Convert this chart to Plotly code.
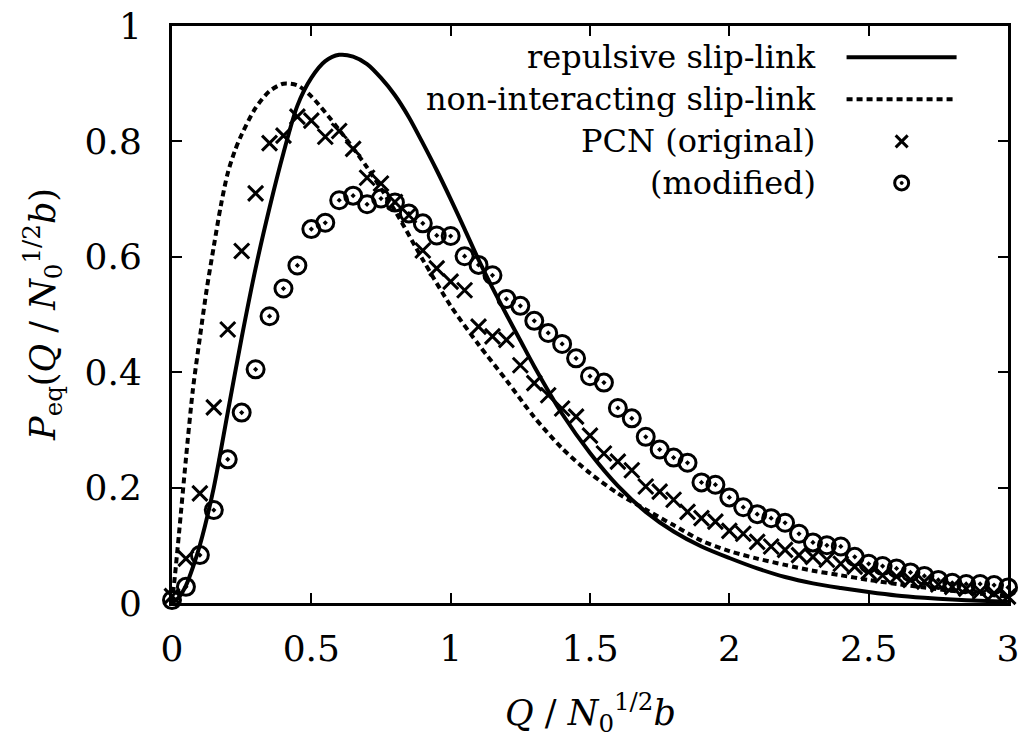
import plotly.graph_objects as go

# ---------------- data ----------------
pcn_q = [0.00, 0.05, 0.10, 0.15, 0.20, 0.25, 0.30, 0.35, 0.40, 0.45,
         0.50, 0.55, 0.60, 0.65, 0.70, 0.75, 0.80, 0.85, 0.90, 0.95,
         1.00, 1.05, 1.10, 1.15, 1.20, 1.25, 1.30, 1.35, 1.40, 1.45,
         1.50, 1.55, 1.60, 1.65, 1.70, 1.75, 1.80, 1.85, 1.90, 1.95,
         2.00, 2.05, 2.10, 2.15, 2.20, 2.25, 2.30, 2.35, 2.40, 2.45,
         2.50, 2.55, 2.60, 2.65, 2.70, 2.75, 2.80, 2.85, 2.90, 2.95, 3.00]

pcn_original = [0.012, 0.077, 0.19, 0.339, 0.474, 0.61, 0.71, 0.797, 0.81, 0.843,
                0.836, 0.808, 0.818, 0.787, 0.737, 0.727, 0.695, 0.672, 0.611, 0.58,
                0.557, 0.542, 0.479, 0.462, 0.456, 0.412, 0.381, 0.360, 0.337, 0.323,
                0.29, 0.259, 0.245, 0.23, 0.202, 0.193, 0.179, 0.158, 0.147, 0.141,
                0.125, 0.12, 0.106, 0.098, 0.092, 0.083, 0.08, 0.075, 0.068, 0.063,
                0.054, 0.048, 0.046, 0.040, 0.037, 0.032, 0.028, 0.025, 0.02, 0.017, 0.011]

pcn_modified = [0.005, 0.028, 0.083, 0.161, 0.249, 0.330, 0.405, 0.497, 0.545, 0.585,
                0.648, 0.659, 0.698, 0.706, 0.691, 0.701, 0.694, 0.675, 0.658, 0.637,
                0.636, 0.601, 0.586, 0.568, 0.527, 0.515, 0.489, 0.468, 0.449, 0.424,
                0.393, 0.382, 0.338, 0.32, 0.288, 0.266, 0.252, 0.243, 0.209, 0.205,
                0.183, 0.166, 0.154, 0.147, 0.139, 0.12, 0.105, 0.10, 0.098, 0.080,
                0.068, 0.064, 0.060, 0.053, 0.047, 0.040, 0.035, 0.033, 0.033, 0.031, 0.027]

rep_q = [0, 0.025, 0.05, 0.075, 0.1, 0.15, 0.2, 0.25, 0.3, 0.35, 0.4, 0.45, 0.5,
         0.55, 0.6, 0.65, 0.7, 0.75, 0.8, 0.85, 0.9, 0.95, 1.0, 1.05, 1.1, 1.15,
         1.2, 1.25, 1.3, 1.4, 1.5, 1.6, 1.7, 1.8, 1.9, 2.0, 2.1, 2.2, 2.3, 2.4,
         2.5, 2.6, 2.7, 2.8, 2.9, 3.0]
rep_p = [0, 0.01, 0.03, 0.062, 0.10, 0.20, 0.33, 0.46, 0.58, 0.685, 0.78, 0.862, 0.91,
         0.939, 0.95, 0.947, 0.934, 0.91, 0.88, 0.842, 0.797, 0.75, 0.70, 0.648, 0.595,
         0.546, 0.50, 0.455, 0.41, 0.328, 0.26, 0.203, 0.158, 0.124, 0.098, 0.078,
         0.060, 0.045, 0.034, 0.026, 0.019, 0.013, 0.009, 0.006, 0.004, 0.002]

non_q = [0, 0.01, 0.025, 0.05, 0.075, 0.1, 0.125, 0.15, 0.175, 0.2, 0.225, 0.25, 0.3,
         0.35, 0.4, 0.45, 0.5, 0.6, 0.7, 0.8, 0.9, 1.0, 1.1, 1.2, 1.3, 1.4, 1.5, 1.6,
         1.7, 1.8, 1.9, 2.0, 2.1, 2.2, 2.3, 2.4, 2.5, 2.6, 2.7, 2.8, 2.9, 3.0]
non_p = [0, 0.045, 0.12, 0.25, 0.37, 0.46, 0.545, 0.618, 0.688, 0.745, 0.783, 0.812, 0.858,
         0.887, 0.90, 0.897, 0.878, 0.82, 0.755, 0.68, 0.595, 0.515, 0.448, 0.386, 0.322,
         0.268, 0.225, 0.19, 0.162, 0.135, 0.108, 0.09, 0.077, 0.066, 0.056, 0.048,
         0.04, 0.033, 0.027, 0.021, 0.016, 0.011]

x_ticks = [0, 0.5, 1, 1.5, 2, 2.5, 3]
x_tick_text = ["0", "0.5", "1", "1.5", "2", "2.5", "3"]
y_ticks = [0, 0.2, 0.4, 0.6, 0.8, 1]
y_tick_text = ["0", "0.2", "0.4", "0.6", "0.8", "1"]

legend_labels = ["repulsive slip-link", "non-interacting slip-link",
                 "PCN (original)", "(modified)"]

# ---------------- figure ----------------
FONT = "DejaVu Serif"
FS_TICK = 36
FS_LEG = 32
FS_TITLE = 35

fig = go.Figure()

fig.add_trace(go.Scatter(x=rep_q, y=rep_p, mode="lines",
                         line=dict(color="black", width=4, shape="spline", smoothing=0.8),
                         showlegend=False, cliponaxis=False, hoverinfo="skip"))
fig.add_trace(go.Scatter(x=non_q, y=non_p, mode="lines",
                         line=dict(color="black", width=4, dash="6px,4px",
                                   shape="spline", smoothing=0.8),
                         showlegend=False, cliponaxis=False, hoverinfo="skip"))
fig.add_trace(go.Scatter(x=pcn_q, y=pcn_original, mode="markers",
                         marker=dict(symbol="x-thin-open", size=15, color="black",
                                     line=dict(color="black", width=3)),
                         showlegend=False, cliponaxis=False, hoverinfo="skip"))
fig.add_trace(go.Scatter(x=pcn_q, y=pcn_modified, mode="markers",
                         marker=dict(symbol="circle-open-dot", size=17, color="black",
                                     line=dict(color="black", width=3)),
                         showlegend=False, cliponaxis=False, hoverinfo="skip"))

axis_common = dict(showgrid=False, zeroline=False, showline=True, linecolor="black",
                   linewidth=3, mirror="ticks", ticks="inside", ticklen=10, tickwidth=2,
                   tickcolor="black", automargin=False, ticklabeloverflow="allow",
                   tickfont=dict(family=FONT, size=FS_TICK, color="black"))

fig.update_xaxes(range=[0, 3], tickvals=x_ticks, ticktext=x_tick_text,
                 ticklabelstandoff=12, **axis_common)
fig.update_yaxes(range=[0, 1], tickvals=y_ticks, ticktext=y_tick_text,
                 ticklabelstandoff=20, **axis_common)

# ---------------- manual legend (text left of key, as in gnuplot) ----------------
row_y = [0.946, 0.873, 0.800, 0.728]
text_x = 0.7726
key_x0, key_x1, key_xc = 0.8069, 0.9385, 0.8728

for lab, yy in zip(legend_labels, row_y):
    fig.add_annotation(x=text_x, y=yy, xref="paper", yref="paper", text=lab,
                       showarrow=False, xanchor="right", yanchor="middle",
                       font=dict(family=FONT, size=FS_LEG, color="black"))

fig.add_shape(type="line", xref="paper", yref="paper", x0=key_x0, x1=key_x1,
              y0=row_y[0], y1=row_y[0], line=dict(color="black", width=4))
fig.add_shape(type="line", xref="paper", yref="paper", x0=key_x0, x1=key_x1,
              y0=row_y[1], y1=row_y[1], line=dict(color="black", width=4, dash="6px,4px"))
for sx in (1, -1):
    fig.add_shape(type="line", xref="paper", yref="paper",
                  xsizemode="pixel", ysizemode="pixel", xanchor=key_xc, yanchor=row_y[2],
                  x0=-6, x1=6, y0=-6 * sx, y1=6 * sx, line=dict(color="black", width=3))
fig.add_shape(type="circle", xref="paper", yref="paper",
              xsizemode="pixel", ysizemode="pixel", xanchor=key_xc, yanchor=row_y[3],
              x0=-7, x1=7, y0=-7, y1=7, line=dict(color="black", width=3))
fig.add_shape(type="circle", xref="paper", yref="paper",
              xsizemode="pixel", ysizemode="pixel", xanchor=key_xc, yanchor=row_y[3],
              x0=-1.5, x1=1.5, y0=-1.5, y1=1.5, fillcolor="black",
              line=dict(color="black", width=1))

# ---------------- axis titles ----------------
fig.add_annotation(x=0.5, y=-0.142, xref="paper", yref="paper",
                   text="<i>Q</i> / <i>N</i><sub>0</sub><sup>1/2</sup><i>b</i>",
                   showarrow=False, xanchor="center", yanchor="top",
                   font=dict(family=FONT, size=FS_TITLE, color="black"))
fig.add_annotation(x=-0.155, y=0.5, xref="paper", yref="paper",
                   text="<i>P</i><sub>eq</sub>(<i>Q</i> / <i>N</i><sub>0</sub><sup>1/2</sup><i>b</i>)",
                   showarrow=False, xanchor="center", yanchor="middle", textangle=-90,
                   font=dict(family=FONT, size=FS_TITLE, color="black"))

fig.update_layout(width=1022, height=737, paper_bgcolor="white", plot_bgcolor="white",
                  font=dict(family=FONT, size=FS_TICK, color="black"),
                  margin=dict(l=172, r=14, t=26, b=134), showlegend=False,
                  hovermode=False)

fig.write_html("out.html",
               config={"displayModeBar": False, "staticPlot": True},
               post_script="document.body.style.margin='0';"
                           "document.body.style.overflow='hidden';")
